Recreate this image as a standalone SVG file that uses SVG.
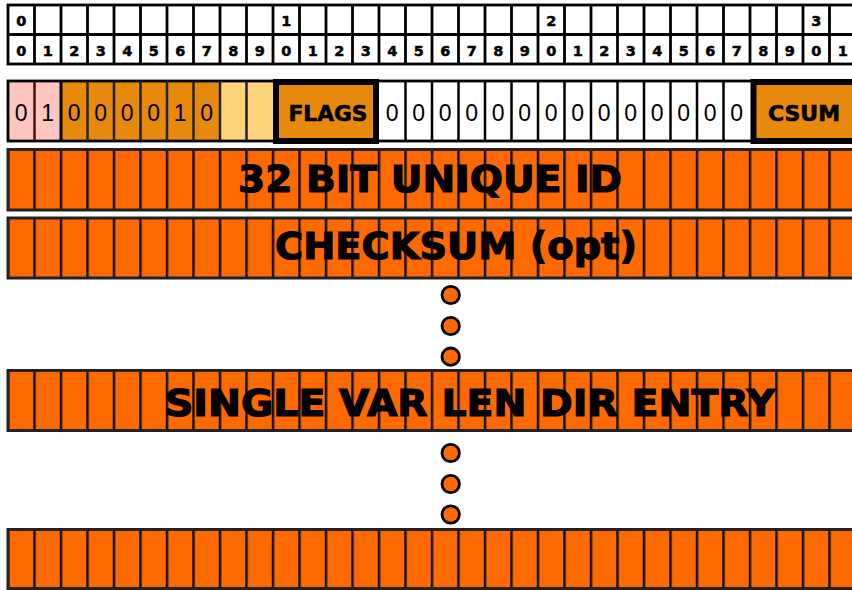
<svg xmlns="http://www.w3.org/2000/svg" width="852" height="590" viewBox="0 0 852 590">
<defs>
<style>
.hdr{font-family:"DejaVu Sans","Liberation Sans",sans-serif;font-weight:bold;font-size:14.5px;text-anchor:middle;fill:#000;stroke:#000;stroke-width:0.5}
.bit{font-family:"Liberation Sans","DejaVu Sans",sans-serif;font-size:23px;text-anchor:middle;fill:#000}
.lbl{font-family:"DejaVu Sans","Liberation Sans",sans-serif;font-weight:bold;font-size:21px;text-anchor:middle;fill:#000;stroke:#000;stroke-width:0.6}
.big{font-family:"DejaVu Sans","Liberation Sans",sans-serif;font-weight:bold;font-size:37px;text-anchor:middle;fill:#000;stroke:#000;stroke-width:1.2}
.grid{stroke:#000;stroke-width:2.8;fill:none}
.dot{fill:#ff6a00;stroke:#000;stroke-width:2.8}
</style>
<pattern id="ocells" x="6.75" y="0" width="26.5" height="590" patternUnits="userSpaceOnUse">
<rect x="0" y="0" width="26.5" height="590" fill="#ff6a00"/>
<line x1="0" y1="0" x2="0" y2="590" stroke="#111" stroke-width="5"/>
</pattern>
</defs>

<g id="header">
<rect x="8" y="5" width="870" height="59" fill="#fff" class="grid"/>
<line x1="8" y1="34.5" x2="852" y2="34.5" class="grid"/>
<path class="grid" d="M34.5 5V64M61 5V64M87.5 5V64M114 5V64M140.5 5V64M167 5V64M193.5 5V64M220 5V64M246.5 5V64M273 5V64M299.5 5V64M326 5V64M352.5 5V64M379 5V64M405.5 5V64M432 5V64M458.5 5V64M485 5V64M511.5 5V64M538 5V64M564.5 5V64M591 5V64M617.5 5V64M644 5V64M670.5 5V64M697 5V64M723.5 5V64M750 5V64M776.5 5V64M803 5V64M829.5 5V64"/>
<text class="hdr" x="21.25" y="25.5">0</text>
<text class="hdr" x="286.25" y="25.5">1</text>
<text class="hdr" x="551.25" y="25.5">2</text>
<text class="hdr" x="816.25" y="25.5">3</text>
<text class="hdr" x="21.25" y="55.5">0</text>
<text class="hdr" x="47.75" y="55.5">1</text>
<text class="hdr" x="74.25" y="55.5">2</text>
<text class="hdr" x="100.75" y="55.5">3</text>
<text class="hdr" x="127.25" y="55.5">4</text>
<text class="hdr" x="153.75" y="55.5">5</text>
<text class="hdr" x="180.25" y="55.5">6</text>
<text class="hdr" x="206.75" y="55.5">7</text>
<text class="hdr" x="233.25" y="55.5">8</text>
<text class="hdr" x="259.75" y="55.5">9</text>
<text class="hdr" x="286.25" y="55.5">0</text>
<text class="hdr" x="312.75" y="55.5">1</text>
<text class="hdr" x="339.25" y="55.5">2</text>
<text class="hdr" x="365.75" y="55.5">3</text>
<text class="hdr" x="392.25" y="55.5">4</text>
<text class="hdr" x="418.75" y="55.5">5</text>
<text class="hdr" x="445.25" y="55.5">6</text>
<text class="hdr" x="471.75" y="55.5">7</text>
<text class="hdr" x="498.25" y="55.5">8</text>
<text class="hdr" x="524.75" y="55.5">9</text>
<text class="hdr" x="551.25" y="55.5">0</text>
<text class="hdr" x="577.75" y="55.5">1</text>
<text class="hdr" x="604.25" y="55.5">2</text>
<text class="hdr" x="630.75" y="55.5">3</text>
<text class="hdr" x="657.25" y="55.5">4</text>
<text class="hdr" x="683.75" y="55.5">5</text>
<text class="hdr" x="710.25" y="55.5">6</text>
<text class="hdr" x="736.75" y="55.5">7</text>
<text class="hdr" x="763.25" y="55.5">8</text>
<text class="hdr" x="789.75" y="55.5">9</text>
<text class="hdr" x="816.25" y="55.5">0</text>
<text class="hdr" x="842.75" y="55.5">1</text>
</g>

<g id="flags-row">
<rect x="8" y="81" width="53" height="60" fill="#ffc6c1"/>
<rect x="61" y="81" width="159" height="60" fill="#e6890c"/>
<rect x="220" y="81" width="53" height="60" fill="#ffd47a"/>
<rect x="379" y="81" width="371" height="60" fill="#fff"/>
<rect x="8" y="81" width="870" height="60" fill="none" stroke="#000" stroke-width="2.8"/>
<line x1="34.5" y1="81" x2="34.5" y2="141" stroke="#4a0d0d" stroke-width="2.5"/>
<line x1="61" y1="81" x2="61" y2="141" stroke="#000" stroke-width="3"/>
<path stroke="#222" stroke-width="2.5" d="M87.5 81V141M114 81V141M140.5 81V141M167 81V141M193.5 81V141M220 81V141M246.5 81V141"/>
<path stroke="#000" stroke-width="2.5" d="M405.5 81V141M432 81V141M458.5 81V141M485 81V141M511.5 81V141M538 81V141M564.5 81V141M591 81V141M617.5 81V141M644 81V141M670.5 81V141M697 81V141M723.5 81V141"/>
<text class="bit" x="21.25" y="121">0</text>
<text class="bit" x="47.75" y="121">1</text>
<text class="bit" x="74.25" y="121">0</text>
<text class="bit" x="100.75" y="121">0</text>
<text class="bit" x="127.25" y="121">0</text>
<text class="bit" x="153.75" y="121">0</text>
<text class="bit" x="180.25" y="121">1</text>
<text class="bit" x="206.75" y="121">0</text>
<text class="bit" x="392.25" y="121">0</text>
<text class="bit" x="418.75" y="121">0</text>
<text class="bit" x="445.25" y="121">0</text>
<text class="bit" x="471.75" y="121">0</text>
<text class="bit" x="498.25" y="121">0</text>
<text class="bit" x="524.75" y="121">0</text>
<text class="bit" x="551.25" y="121">0</text>
<text class="bit" x="577.75" y="121">0</text>
<text class="bit" x="604.25" y="121">0</text>
<text class="bit" x="630.75" y="121">0</text>
<text class="bit" x="657.25" y="121">0</text>
<text class="bit" x="683.75" y="121">0</text>
<text class="bit" x="710.25" y="121">0</text>
<text class="bit" x="736.75" y="121">0</text>
</g>

<g id="flags">
<rect x="276" y="82" width="100" height="59" fill="#e6890c" stroke="#000" stroke-width="6"/>
<text class="lbl" x="328" y="120.5" textLength="79" lengthAdjust="spacingAndGlyphs">FLAGS</text>
</g>

<g id="csum">
<rect x="753.5" y="82" width="120" height="59" fill="#e6890c" stroke="#000" stroke-width="6"/>
<text class="lbl" x="804" y="120.5" textLength="72" lengthAdjust="spacingAndGlyphs">CSUM</text>
</g>

<g id="unique-id">
<rect x="8" y="149.5" width="870" height="60.5" fill="url(#ocells)" stroke="#222" stroke-width="3"/>
<text class="big" x="430" y="192" textLength="384" lengthAdjust="spacingAndGlyphs">32 BIT UNIQUE ID</text>
</g>

<g id="checksum">
<rect x="8" y="218" width="870" height="60" fill="url(#ocells)" stroke="#222" stroke-width="3"/>
<text class="big" x="456" y="259" textLength="362" lengthAdjust="spacingAndGlyphs">CHECKSUM (opt)</text>
</g>

<g id="dots-1">
<circle class="dot" cx="450.7" cy="295" r="8.7"/>
<circle class="dot" cx="450.7" cy="326" r="8.7"/>
<circle class="dot" cx="450.7" cy="356.7" r="8.7"/>
</g>

<g id="dir-entry">
<rect x="8" y="370.5" width="870" height="60" fill="url(#ocells)" stroke="#222" stroke-width="3"/>
<text class="big" x="470" y="416" textLength="610" lengthAdjust="spacingAndGlyphs">SINGLE VAR LEN DIR ENTRY</text>
</g>

<g id="dots-2">
<circle class="dot" cx="450.7" cy="453" r="8.7"/>
<circle class="dot" cx="450.7" cy="484" r="8.7"/>
<circle class="dot" cx="450.7" cy="514.5" r="8.7"/>
</g>

<g id="last-row">
<rect x="8" y="529.5" width="870" height="59" fill="url(#ocells)" stroke="#222" stroke-width="3"/>
</g>
</svg>
